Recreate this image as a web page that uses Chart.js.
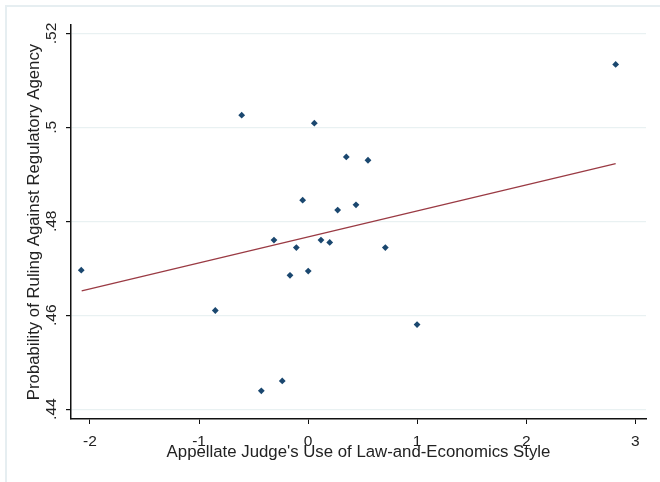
<!DOCTYPE html>
<html>
<head>
<meta charset="utf-8">
<script src="https://cdn.jsdelivr.net/npm/chart.js@4/dist/chart.umd.min.js"></script>
<style>
html, body { margin: 0; padding: 0; background: #fff; }
#wrap { width: 660px; height: 482px; position: relative; }
</style>
</head>
<body>
<div id="wrap"><canvas id="scatterdiv" width="660" height="482"></canvas></div>
<script>
// judge-level points
var styleScores = [-2.080, -0.851, -0.609, -0.429, -0.313, -0.237, -0.166, -0.108, -0.050, 0.001,
                   0.057, 0.118, 0.198, 0.271, 0.350, 0.439, 0.549, 0.708, 0.999, 2.820];
var rulingProbs = [0.4696, 0.4610, 0.5026, 0.4439, 0.4760, 0.4460, 0.4685, 0.4744, 0.4845, 0.4694,
                   0.5009, 0.4760, 0.4755, 0.4824, 0.4937, 0.4835, 0.4930, 0.4744, 0.4580, 0.5134];

// fitted line end points
var fitX = [-2.076, 2.820];
var fitY = [0.4652, 0.4923];

var xTickValues = [-2, -1, 0, 1, 2, 3];
var yTickValues = [0.44, 0.46, 0.48, 0.5, 0.52];

var fontFamily = "'Liberation Sans', Arial, sans-serif";

function toPoints(xs, ys) {
    var pts = [];
    for (var i = 0; i < xs.length; i++) {
        pts.push({ x: xs[i], y: ys[i] });
    }
    return pts;
}

function fmtProb(v) {
    // stata style: .44 .46 .5
    return String(Number(v.toFixed(2))).replace(/^0\./, ".");
}

// light frame like the graph region border
var framePlugin = {
    id: "frame",
    beforeDraw: function (chart) {
        var ctx = chart.ctx;
        ctx.save();
        ctx.fillStyle = "#fff";
        ctx.fillRect(0, 0, chart.width, chart.height);
        ctx.strokeStyle = "#e6eef1";
        ctx.lineWidth = 2;
        ctx.beginPath();
        ctx.moveTo(6, chart.height);
        ctx.lineTo(6, 6);
        ctx.lineTo(chart.width, 6);
        ctx.stroke();
        ctx.restore();
    }
};

new Chart("scatterdiv", {
    type: "scatter",
    data: {
        datasets: [{
            data: toPoints(styleScores, rulingProbs),
            pointStyle: "rectRot",
            pointRadius: 3.4,
            pointHoverRadius: 3.4,
            backgroundColor: "#1a476f",
            borderColor: "#1a476f",
            borderWidth: 0,
            order: 1
        }, {
            type: "line",
            data: toPoints(fitX, fitY),
            borderColor: "#9a3a43",
            borderWidth: 1.3,
            pointRadius: 0,
            fill: false,
            order: 2
        }]
    },
    options: {
        responsive: false,
        animation: false,
        devicePixelRatio: 1,
        layout: { padding: { top: 25, right: 14, left: 0, bottom: 0 } },
        plugins: {
            legend: { display: false },
            tooltip: { enabled: false }
        },
        scales: {
            x: {
                type: "linear",
                min: -2.174,
                max: 3.098,
                afterBuildTicks: function (scale) {
                    scale.ticks = xTickValues.map(function (v) { return { value: v }; });
                },
                afterFit: function (scale) { scale.height = 63; },
                border: { display: true, color: "#111", width: 1.5 },
                grid: { drawOnChartArea: false, drawTicks: true, tickLength: 5, tickColor: "#111", lineWidth: 1 },
                ticks: {
                    color: "#222",
                    padding: 8,
                    maxRotation: 0,
                    font: { family: fontFamily, size: 15.5 },
                    callback: function (v) { return String(v); }
                },
                title: {
                    display: true,
                    text: "Appellate Judge's Use of Law-and-Economics Style",
                    color: "#222",
                    padding: { top: 0, bottom: 19.5 },
                    font: { family: fontFamily, size: 16.8 }
                }
            },
            y: {
                type: "linear",
                min: 0.4379,
                max: 0.5218,
                afterBuildTicks: function (scale) {
                    scale.ticks = yTickValues.map(function (v) { return { value: v }; });
                },
                afterFit: function (scale) { scale.width = 71; },
                border: { display: true, color: "#111", width: 1.5 },
                grid: { color: "#e9f1f2", lineWidth: 1.2, drawTicks: true, tickLength: 5, tickColor: "#111" },
                ticks: {
                    color: "#222",
                    padding: 4,
                    minRotation: 90,
                    maxRotation: 90,
                    crossAlign: "center",
                    font: { family: fontFamily, size: 15.5 },
                    callback: function (v) { return fmtProb(v); }
                },
                title: {
                    display: true,
                    text: "Probability of Ruling Against Regulatory Agency",
                    color: "#222",
                    padding: { top: 24, bottom: 0 },
                    font: { family: fontFamily, size: 16.8 }
                }
            }
        }
    },
    plugins: [framePlugin]
});
</script>
</body>
</html>
